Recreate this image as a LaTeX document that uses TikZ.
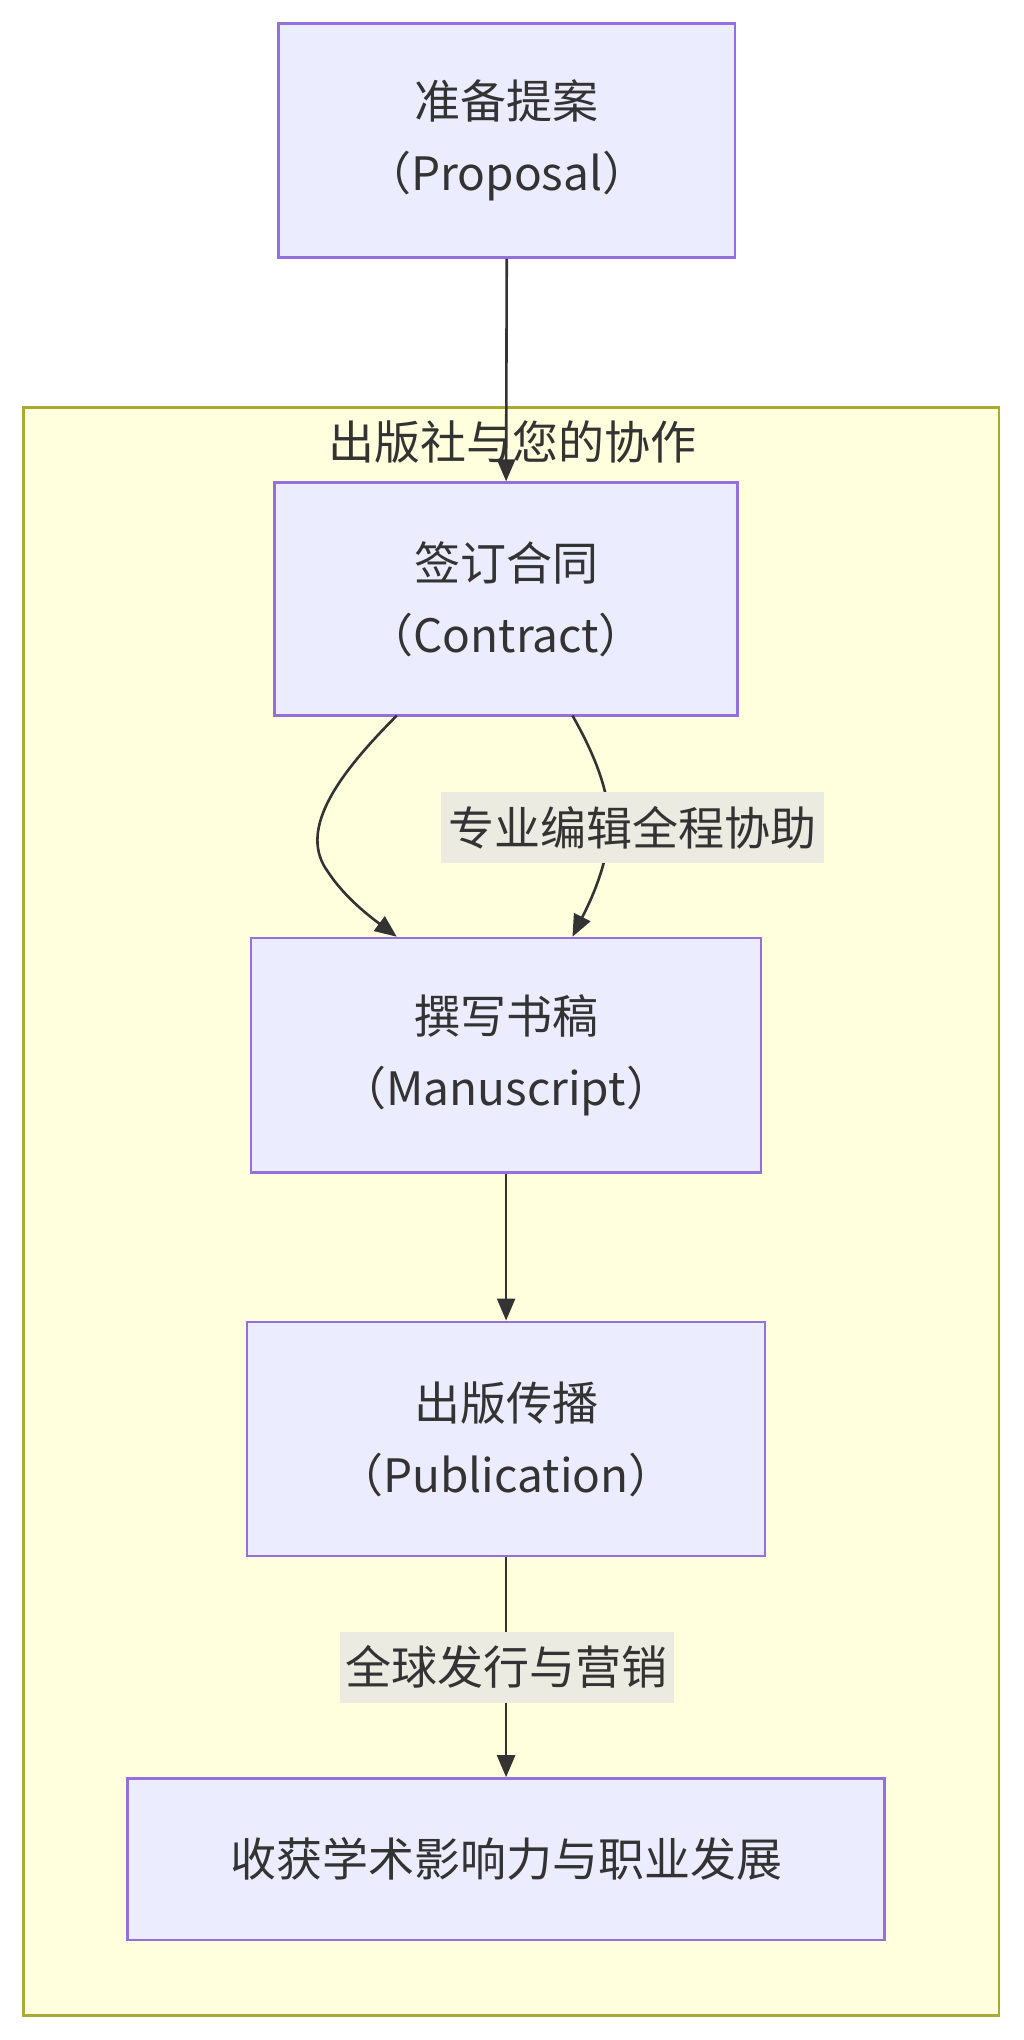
\documentclass[tikz,border=0pt]{standalone}
\usepackage{fontspec}
\setmainfont{Noto Sans CJK SC}
\usetikzlibrary{arrows.meta}
\definecolor{nfill}{HTML}{ECECFF}
\definecolor{nline}{HTML}{9370DB}
\definecolor{cfill}{HTML}{FFFFDE}
\definecolor{cline}{HTML}{AAAA33}
\definecolor{txt}{HTML}{333333}
\definecolor{lbg}{HTML}{EBEBE2}
\begin{document}
\begin{tikzpicture}[x=0.6505pt,y=-0.6505pt,
  box/.style={draw=nline,fill=nfill,line width=1.3pt,text=txt,align=center,inner sep=0pt,font=\fontsize{23pt}{36pt}\selectfont},
  lab/.style={fill=lbg,text=txt,inner sep=2pt,font=\fontsize{23pt}{28pt}\selectfont},
  arr/.style={draw=txt,line width=1.3pt,-{Triangle[length=11pt,width=9pt]}}]
\useasboundingbox (0,0) rectangle (787,1568);
\fill[white] (0,0) rectangle (787,1568);
\draw[cline,fill=cfill,line width=1.3pt] (18,313) rectangle (768,1549);
\node[text=txt,font=\fontsize{23pt}{28pt}\selectfont] (ct) at (394,340) {出版社与您的协作};
\node[box,minimum width=351*0.6505pt,minimum height=180*0.6505pt] (p) at (389.5,108) {准备提案\\（Proposal）};
\node[box,minimum width=356*0.6505pt,minimum height=179*0.6505pt] (c) at (389,460.5) {签订合同\\（Contract）};
\node[box,minimum width=392*0.6505pt,minimum height=180*0.6505pt] (m) at (389,811) {撰写书稿\\（Manuscript）};
\node[box,minimum width=398*0.6505pt,minimum height=180*0.6505pt] (u) at (389,1106) {出版传播\\（Publication）};
\node[box,minimum width=582*0.6505pt,minimum height=124*0.6505pt] (f) at (389,1429) {收获学术影响力与职业发展};
\draw[arr] (p.south) -- (c.north);
\coordinate (c1) at (305,550); \coordinate (m1) at (305,720);
\coordinate (c2) at (440,550); \coordinate (m2) at (440,720);
\draw[arr] (c1) .. controls (255,600) and (230,640) .. (252,670) .. controls (265,690) and (285,705) .. (m1);
\draw[arr] (c2) .. controls (460,585) and (470,615) .. (468,640) .. controls (466,670) and (450,700) .. (m2);
\node[lab,minimum width=294*0.6505pt,minimum height=54*0.6505pt] (l1) at (486,636) {专业编辑全程协助};
\draw[arr] (m.south) -- (u.north);
\draw[arr] (u.south) -- (f.north);
\node[lab,minimum width=257*0.6505pt,minimum height=55*0.6505pt] (l2) at (389.5,1281.5) {全球发行与营销};
\end{tikzpicture}
\end{document}
